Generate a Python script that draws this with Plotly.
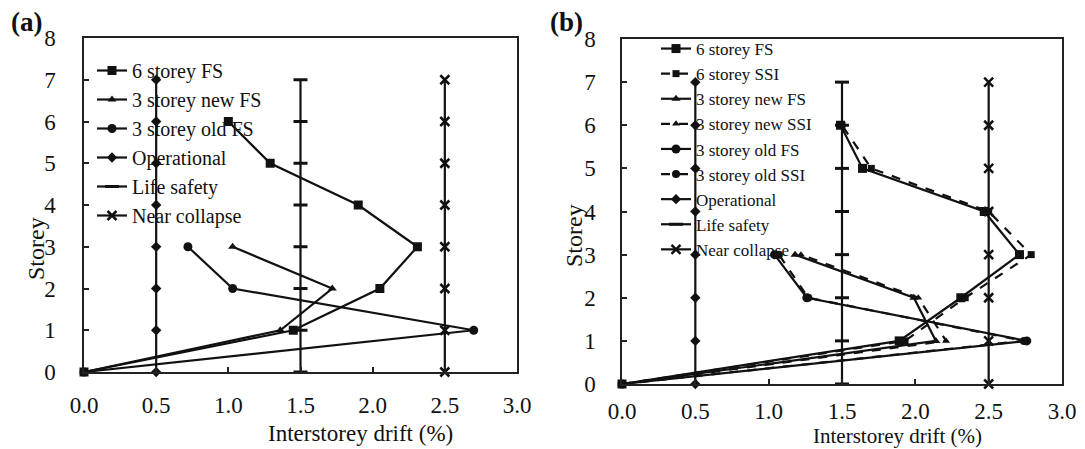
import plotly.graph_objects as go

# ---------------- data ----------------
storeys6 = [0, 1, 2, 3, 4, 5, 6]
storeys3 = [0, 1, 2, 3]
limit_storeys = [0, 1, 2, 3, 4, 5, 6, 7]

# panel (a)
a_6fs = [0, 1.45, 2.05, 2.31, 1.90, 1.29, 1.00]
a_3new_fs = [0, 1.36, 1.72, 1.03]
a_3old_fs = [0, 2.70, 1.03, 0.72]

# panel (b)
b_6fs = [0, 1.89, 2.31, 2.71, 2.47, 1.64, 1.49]
b_6ssi = [0, 1.93, 2.34, 2.79, 2.50, 1.70, 1.50]
b_3new_fs = [0, 2.14, 1.99, 1.18]
b_3new_ssi = [0, 2.21, 2.02, 1.22]
b_3old_fs = [0, 2.76, 1.26, 1.04]
b_3old_ssi = [0, 2.74, 1.27, 1.07]

operational = [0.5] * 8
life_safety = [1.5] * 8
near_collapse = [2.5] * 8

x_ticks = [0.0, 0.5, 1.0, 1.5, 2.0, 2.5, 3.0]
y_ticks = [0, 1, 2, 3, 4, 5, 6, 7, 8]

# ---------------- figure ----------------
W, H = 1085, 449
INK = "#111111"
FONT = "Liberation Serif"

fig = go.Figure()


def add(x, y, name, symbol, size, xa, ya, legend, dash="solid", mwidth=0):
    fig.add_trace(go.Scatter(
        x=x, y=y, name=name, mode="lines+markers",
        line=dict(color=INK, width=2.2, dash=dash),
        marker=dict(symbol=symbol, size=size, color=INK,
                    line=dict(color=INK, width=mwidth)),
        xaxis=xa, yaxis=ya, legend=legend, cliponaxis=False,
    ))


# panel (a)
add(a_6fs, storeys6, "6 storey FS", "square", 9, "x", "y", "legend")
add(a_3new_fs, storeys3, "3 storey new FS", "triangle-up", 8, "x", "y", "legend")
add(a_3old_fs, storeys3, "3 storey old FS", "circle", 9, "x", "y", "legend")
add(operational, limit_storeys, "Operational", "diamond", 8, "x", "y", "legend")
add(life_safety, limit_storeys, "Life safety", "line-ew-open", 10, "x", "y", "legend", mwidth=3)
add(near_collapse, limit_storeys, "Near collapse", "x-thin-open", 9, "x", "y", "legend", mwidth=2.5)

# panel (b)
add(b_6fs, storeys6, "6 storey FS", "square", 9, "x2", "y2", "legend2")
add(b_6ssi, storeys6, "6 storey SSI", "square", 7, "x2", "y2", "legend2", dash="dash")
add(b_3new_fs, storeys3, "3 storey new FS", "triangle-up", 8, "x2", "y2", "legend2")
add(b_3new_ssi, storeys3, "3 storey new SSI", "triangle-up", 7, "x2", "y2", "legend2", dash="dash")
add(b_3old_fs, storeys3, "3 storey old FS", "circle", 9, "x2", "y2", "legend2")
add(b_3old_ssi, storeys3, "3 storey old SSI", "circle", 8, "x2", "y2", "legend2", dash="dash")
add(operational, limit_storeys, "Operational", "diamond", 8, "x2", "y2", "legend2")
add(life_safety, limit_storeys, "Life safety", "line-ew-open", 10, "x2", "y2", "legend2", mwidth=3)
add(near_collapse, limit_storeys, "Near collapse", "x-thin-open", 9, "x2", "y2", "legend2", mwidth=2.5)


def px_x(p):
    return p / W


def px_y(p):
    return 1 - p / H


axis_common = dict(
    showgrid=False, zeroline=False, showline=True, linecolor="#222222",
    linewidth=1.5, mirror=True, ticks="inside", ticklen=5, tickwidth=1.5,
    tickcolor="#222222", tickfont=dict(family=FONT, size=23, color=INK),
    automargin=False,
)

fig.update_layout(
    width=W, height=H, margin=dict(l=0, r=0, t=0, b=0),
    paper_bgcolor="white", plot_bgcolor="white",
    font=dict(family=FONT, color=INK),
    xaxis=dict(domain=[px_x(84), px_x(517)], range=[0, 3], tickvals=x_ticks,
               tickformat=".1f", anchor="y", ticklabelstandoff=12, **axis_common),
    yaxis=dict(domain=[px_y(372), px_y(38)], range=[0, 8], tickvals=y_ticks,
               anchor="x", ticklabelstandoff=22, **axis_common),
    xaxis2=dict(domain=[px_x(622), px_x(1062)], range=[0, 3], tickvals=x_ticks,
                tickformat=".1f", anchor="y2", ticklabelstandoff=6, **axis_common),
    yaxis2=dict(domain=[px_y(384), px_y(39)], range=[0, 8], tickvals=y_ticks,
                anchor="x2", ticklabelstandoff=20, **axis_common),
    legend=dict(x=px_x(92), y=px_y(51), xanchor="left", yanchor="top",
                bgcolor="rgba(0,0,0,0)", font=dict(family=FONT, size=20, color=INK),
                itemwidth=30, tracegroupgap=0),
    legend2=dict(x=px_x(656), y=px_y(31), xanchor="left", yanchor="top",
                 bgcolor="rgba(0,0,0,0)", font=dict(family=FONT, size=17, color=INK),
                 itemwidth=30, tracegroupgap=0),
    showlegend=True,
)

annotations = [
    dict(text="<b>(a)</b>", x=px_x(26), y=px_y(22), font=dict(family=FONT, size=27, color=INK)),
    dict(text="<b>(b)</b>", x=px_x(566), y=px_y(22), font=dict(family=FONT, size=27, color=INK)),
    dict(text="Storey", x=px_x(36), y=px_y(249), textangle=-90, font=dict(family=FONT, size=24, color=INK)),
    dict(text="Storey", x=px_x(574), y=px_y(236), textangle=-90, font=dict(family=FONT, size=24, color=INK)),
    dict(text="Interstorey drift (%)", x=px_x(360), y=px_y(433), font=dict(family=FONT, size=23, color=INK)),
    dict(text="Interstorey drift (%)", x=px_x(897), y=px_y(436), font=dict(family=FONT, size=21, color=INK)),
]
for a in annotations:
    a.update(xref="paper", yref="paper", showarrow=False, xanchor="center", yanchor="middle")
fig.update_layout(annotations=annotations)

fig.write_html("out.html")
